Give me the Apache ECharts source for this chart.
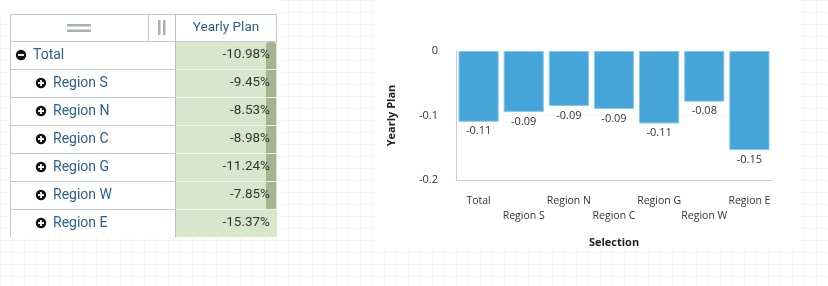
<!DOCTYPE html>
<html><head><meta charset="utf-8">
<script src="https://cdn.jsdelivr.net/npm/echarts@6/dist/echarts.min.js"></script>
<style>
html,body{margin:0;padding:0;}
body{width:828px;height:286px;background-color:#fff;
background-image:linear-gradient(#f6f6f6 1px,transparent 1px),linear-gradient(90deg,#f6f6f6 1px,transparent 1px);
background-size:12px 12px;}
#c{width:828px;height:286px;}
</style></head><body>
<div id="c"></div>
<script>
const categories = ['Total','Region S','Region N','Region C','Region G','Region W','Region E'];
const yearlyPlan = [-0.1098,-0.0945,-0.0853,-0.0898,-0.1124,-0.0785,-0.1537];
const yTicks = {min:-0.2, max:0, interval:0.1};
const tableHeader = 'Yearly Plan';

const chart = echarts.init(document.getElementById('c'), null, {renderer:'canvas'});
const g = [];
g.push({type:'rect',shape:{x:0,y:0,width:280,height:14},style:{fill:'#fff'},silent:true});
g.push({type:'rect',shape:{x:375,y:0,width:425,height:250},style:{fill:'#fff'},silent:true});
const L=10, C1=148, C2=176, R=277, T=14, H=41, RH=28;
const bodyBottom = H + RH*categories.length;
g.push({type:'rect',shape:{x:L,y:T,width:R-L,height:bodyBottom-T},style:{fill:'#fff'}});
g.push({type:'rect',shape:{x:C2,y:H,width:R-C2,height:bodyBottom-H},style:{fill:'#d8e7cb'}});
g.push({type:'rect',shape:{x:266,y:42,width:10,height:168,r:3},style:{fill:'#a3b491'}});
const line=(x1,y1,x2,y2,c)=>g.push({type:'line',shape:{x1,y1,x2,y2},style:{stroke:c||'#c3cacb',lineWidth:1}});
line(L,T+0.5,R,T+0.5);
line(L,H+0.5,R,H+0.5);
line(L+0.5,T,L+0.5,bodyBottom);
line(R-0.5,T,R-0.5,H);
line(C1+0.5,T,C1+0.5,H);
line(C2-0.5,T,C2-0.5,bodyBottom,'#b7bfbf');
g.push({type:'rect',shape:{x:67,y:24,width:24,height:2.5},style:{fill:'#a9b0b1'}});
g.push({type:'rect',shape:{x:67,y:29.5,width:24,height:2.5},style:{fill:'#a9b0b1'}});
g.push({type:'rect',shape:{x:158,y:20,width:2.5,height:15},style:{fill:'#a9b0b1'}});
g.push({type:'rect',shape:{x:163,y:20,width:2.5,height:15},style:{fill:'#a9b0b1'}});
g.push({type:'text',style:{text:tableHeader,x:226,y:27.5,align:'center',verticalAlign:'middle',font:'13.5px Roboto',fill:'#2e5f8c'}});
categories.forEach((name,i)=>{
  const y0=H+RH*i, cy=y0+RH/2;
  if(i>0){ line(L,y0+0.5,C2-1,y0+0.5); line(C2,y0+0.5,R,y0+0.5,'#eef4e8'); }
  const ix = i===0?21:41;
  g.push({type:'circle',shape:{cx:ix,cy:cy,r:5.2},style:{fill:'#111'}});
  g.push({type:'rect',shape:{x:ix-3,y:cy-0.9,width:6,height:1.8},style:{fill:'#fff'}});
  if(i>0) g.push({type:'rect',shape:{x:ix-0.9,y:cy-3,width:1.8,height:6},style:{fill:'#fff'}});
  g.push({type:'text',style:{text:name,x:ix+12,y:cy,verticalAlign:'middle',font:'14px Roboto',fill:'#2e5f8c'}});
  g.push({type:'text',style:{text:(yearlyPlan[i]*100).toFixed(2)+'%',x:270,y:cy,align:'right',verticalAlign:'middle',font:'13.5px Roboto',fill:'#333'}});
});

chart.setOption({
  animation:false,
  textStyle:{fontFamily:'Open Sans'},
  grid:{left:456,top:51,width:316,height:129,containLabel:false},
  xAxis:{type:'category',data:categories,name:'Selection',nameLocation:'middle',nameGap:57,
    nameTextStyle:{fontWeight:'bold',fontSize:11,color:'#222'},
    axisLine:{onZero:false,lineStyle:{color:'#ccc'}},axisTick:{show:false},
    axisLabel:{interval:0,margin:14,fontSize:10.5,color:'#333',lineHeight:15,
      formatter:(v,i)=> i%2? '\n'+v : v}},
  yAxis:{type:'value',min:yTicks.min,max:yTicks.max,interval:yTicks.interval,name:'Yearly Plan',
    nameLocation:'middle',nameGap:59,nameTextStyle:{fontWeight:'bold',fontSize:11,color:'#222'},
    axisLine:{show:true,lineStyle:{color:'#ccc'}},axisTick:{show:false},
    axisLabel:{fontSize:11,color:'#333',margin:18},
    splitLine:{lineStyle:{color:'#f4f4f4'}}},
  series:[{type:'bar',data:yearlyPlan,barCategoryGap:'11%',
    itemStyle:{color:'#45a5d9',borderColor:'#8cc8ea',borderWidth:1},
    label:{show:true,position:'bottom',distance:4,fontSize:11,color:'#333',
      formatter:p=>p.value.toFixed(2)}}],
  graphic:g
});
</script></body></html>
